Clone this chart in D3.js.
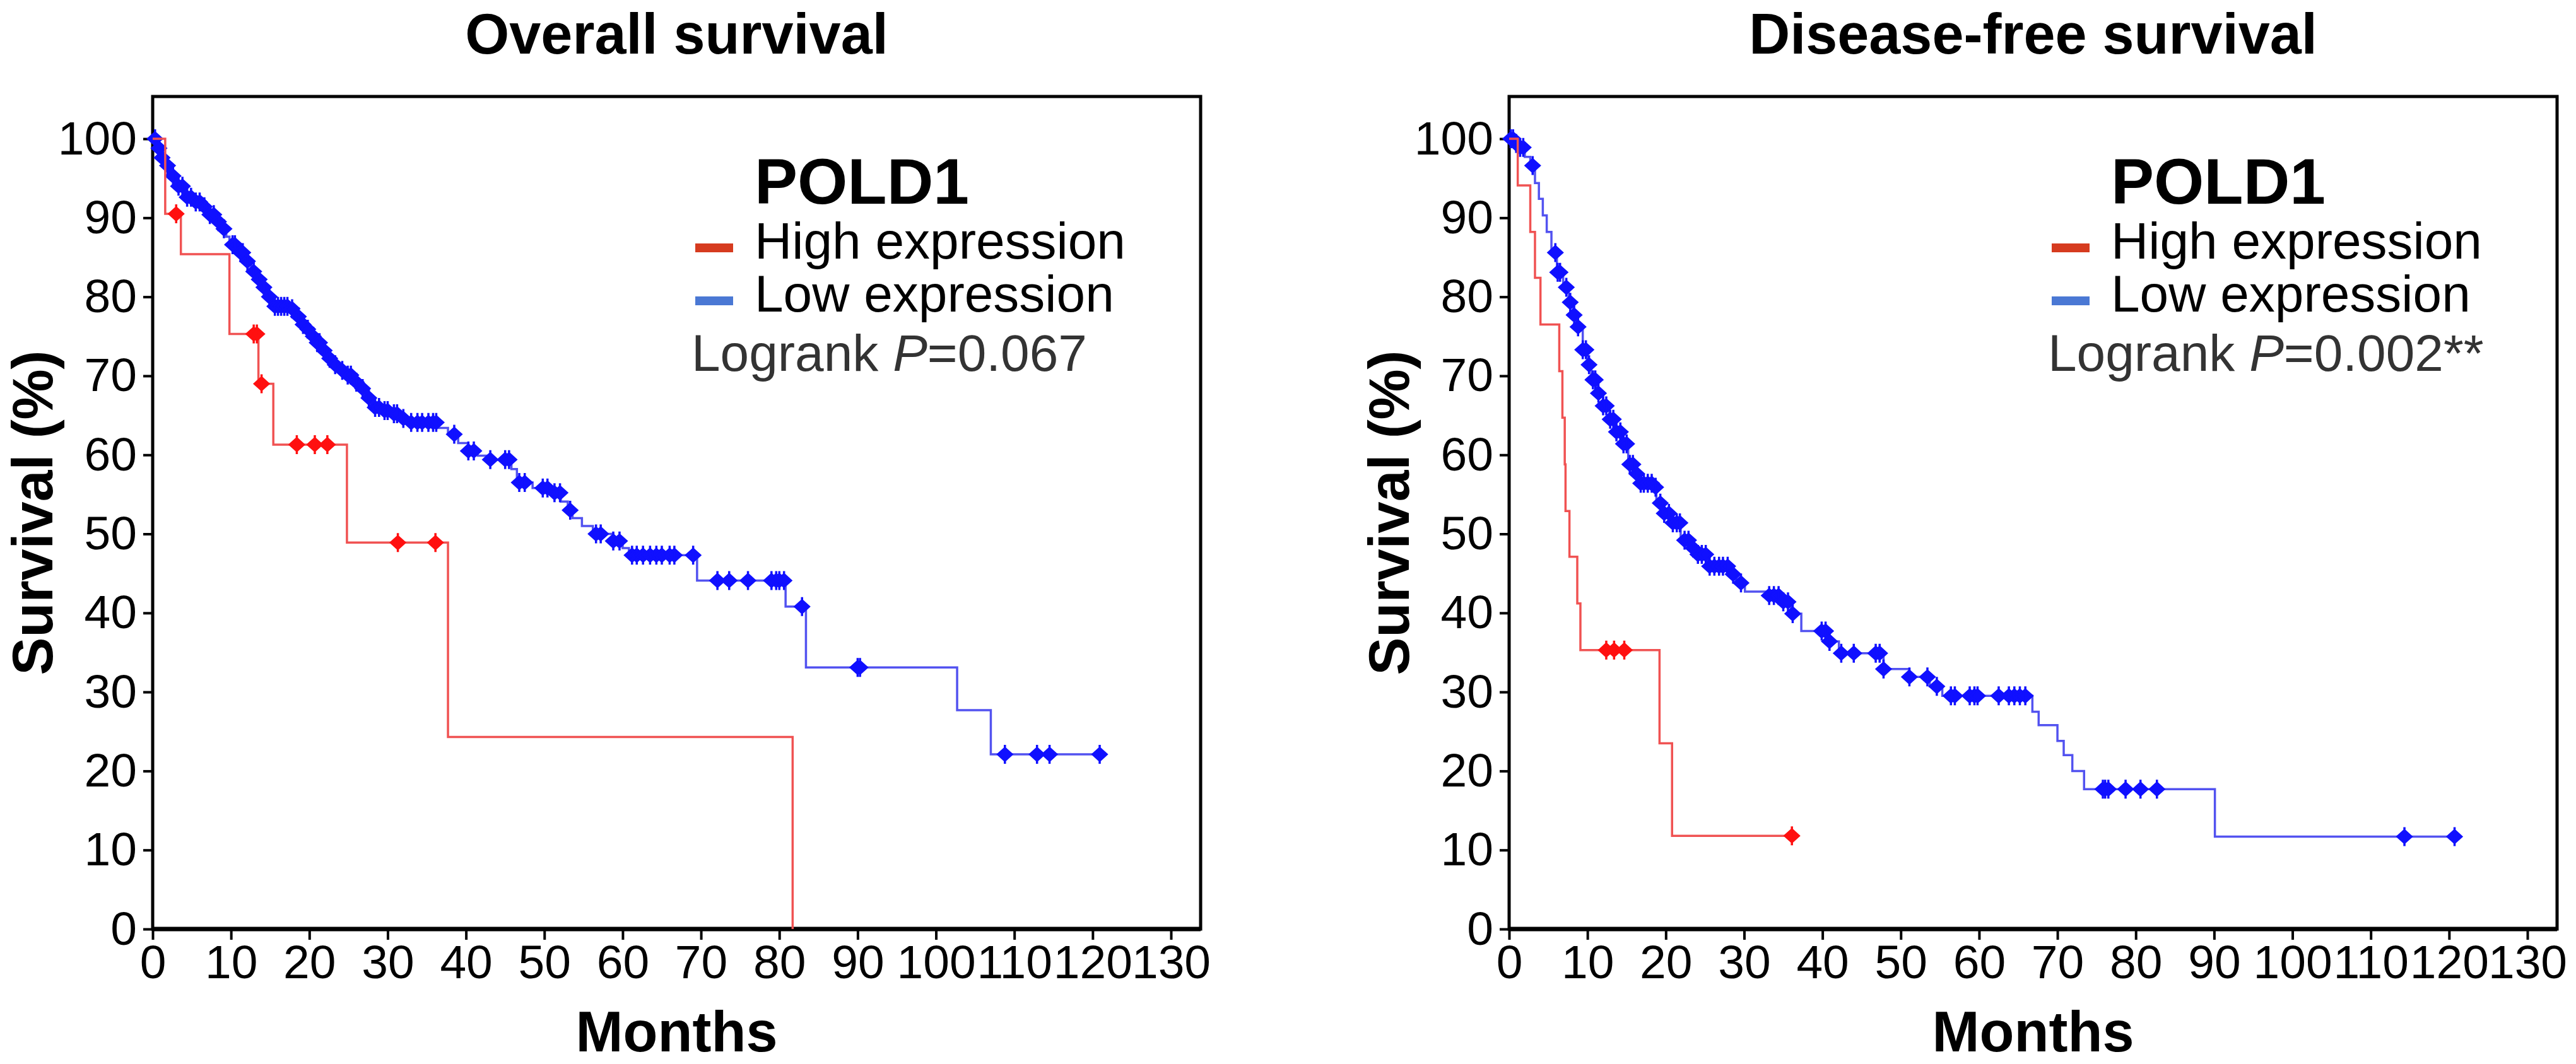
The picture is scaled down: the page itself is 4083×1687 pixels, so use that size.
<!DOCTYPE html>
<html>
<head>
<meta charset="utf-8">
<script src="https://cdn.jsdelivr.net/npm/d3@7"></script>
<style>
  html, body { margin: 0; padding: 0; background: #fff; }
  svg { display: block; font-family: "Liberation Sans", Arial, Helvetica, sans-serif; }
</style>
</head>
<body>
<div id="chart"></div>
<script>
// Kaplan-Meier curves for POLD1 high / low expression.

const monthTicks = [0, 10, 20, 30, 40, 50, 60, 70, 80, 90, 100, 110, 120, 130];
const survTicks  = [0, 10, 20, 30, 40, 50, 60, 70, 80, 90, 100];

const panelTitles = ['Overall survival', 'Disease-free survival'];
const pValues     = ['=0.067', '=0.002**'];
const groupLabels = ['High expression', 'Low expression'];

// [month, survival % after the step]
const osHighSteps = [[0,100],[1.6,90.5],[3.6,85.4],[9.8,75.3],[13.5,69.0],[15.4,61.3],[24.8,48.9],[37.7,24.3],[81.7,0]];
const osHighEnd = 81.7;
const osHighCensor = [3.0, 12.9, 13.3, 13.9, 18.4, 20.7, 22.3, 31.3, 36.1];

const osLowSteps = [[0,100],[0.5,98.8],[1.0,97.6],[1.6,96.6],[2.3,95.3],[3.1,94.0],[4.1,92.6],[5.2,92.0],[6.2,91.4],
  [7.0,90.4],[8.0,89.5],[8.8,88.6],[9.4,87.6],[9.8,86.6],[10.8,85.6],[11.8,84.5],[12.6,83.2],[13.3,82.2],[13.9,81.2],
  [14.6,80.0],[15.4,78.8],[17.5,78.5],[18.3,77.5],[19.0,76.5],[19.5,75.9],[20.2,75.0],[20.8,74.2],[21.6,73.2],
  [22.3,72.2],[23.0,71.4],[23.8,70.7],[24.6,70.1],[25.5,69.2],[26.4,68.4],[27.2,67.2],[28.0,66.0],[29.3,65.6],
  [30.5,65.2],[31.5,64.6],[32.6,64.1],[36.5,63.4],[37.7,62.6],[39.0,61.5],[40.3,60.5],[41.5,59.9],[42.9,59.4],
  [45.8,58.2],[46.5,56.5],[48.5,55.8],[50.6,55.2],[52.1,54.1],[53.0,53.0],[53.6,52.0],[54.8,51.0],[56.2,50.0],
  [58.8,49.1],[60.0,48.2],[60.8,47.3],[69.5,44.1],[80.8,40.8],[83.4,33.1],[102.7,27.7],[107.0,22.1]];
const osLowEnd = 120.9;
const osLowCensor = [0.3,0.8,1.2,1.9,2.6,3.3,3.8,4.4,4.9,5.5,6.0,6.6,7.3,7.8,8.4,9.1,10.2,10.5,11.2,11.5,12.1,12.9,
  13.6,14.2,14.9,15.6,16.0,16.4,16.8,17.2,17.8,18.6,19.2,19.8,20.5,21.0,21.3,21.9,22.6,23.3,24.2,24.9,25.3,26.0,
  26.8,27.6,28.4,28.9,29.6,30.0,30.8,31.2,32.0,33.0,33.8,34.4,35.2,35.8,36.2,38.5,40.3,41.0,43.1,45.0,45.5,46.8,
  47.5,49.8,50.4,51.3,52.0,53.3,56.6,57.2,58.8,59.6,61.2,61.8,62.6,63.5,64.3,65.0,66.0,66.6,69.0,72.1,73.6,76.0,
  79.0,79.6,80.0,80.6,82.9,90.0,90.3,108.8,112.9,114.5,120.9];

const dfsHighSteps = [[0,100],[1.1,94.1],[2.7,88.2],[3.3,82.4],[4.0,76.5],[6.4,70.6],[6.8,64.7],[7.1,58.8],[7.2,52.9],
  [7.7,47.1],[8.7,41.2],[9.1,35.3],[19.2,23.5],[20.8,11.8]];
const dfsHighEnd = 36.1;
const dfsHighCensor = [12.4, 13.4, 14.7, 36.1];

const dfsLowSteps = [[0,100],[0.6,99.4],[1.2,98.9],[2.0,97.7],[2.7,96.6],[3.3,94.4],[3.8,92.4],[4.3,90.3],[4.8,88.2],
  [5.4,85.6],[6.1,83.1],[6.9,81.2],[7.6,79.3],[8.2,77.7],[8.7,76.2],[9.4,73.3],[10.0,71.4],[10.5,69.5],[11.2,67.8],
  [12.0,66.2],[12.8,64.5],[13.5,62.9],[14.5,61.4],[15.2,58.8],[16.0,57.6],[16.5,56.4],[18.3,55.9],[18.8,53.9],
  [19.8,52.6],[20.8,51.4],[21.9,49.2],[23.0,48.2],[23.9,47.4],[25.5,45.9],[28.0,44.9],[29.0,43.8],[30.1,42.7],
  [33.0,42.2],[34.7,41.4],[36.0,39.9],[37.3,37.7],[40.9,36.4],[42.1,34.9],[47.8,32.9],[51.1,31.9],[53.7,30.7],
  [55.3,29.5],[66.8,27.5],[67.6,25.8],[70.0,23.8],[70.8,22.0],[71.9,20.0],[73.4,17.7],[90.1,11.7]];
const dfsLowEnd = 120.7;
const dfsLowCensor = [0.2,0.5,0.9,1.4,1.8,3.0,5.9,6.2,6.5,7.3,7.8,8.3,8.8,9.4,9.8,10.2,10.7,11.0,11.4,12.0,12.4,12.9,
  13.3,13.7,14.2,14.6,15.0,15.4,15.8,16.3,16.8,17.2,17.7,18.2,18.7,19.3,19.8,20.4,20.9,21.4,21.8,22.4,22.9,23.5,
  24.1,24.6,25.1,25.6,26.2,26.8,27.3,27.9,28.6,29.6,33.2,33.8,34.4,35.0,35.6,36.2,39.9,40.4,40.9,42.4,44.0,46.8,
  47.3,47.8,51.1,53.4,54.6,56.4,56.9,58.8,59.4,59.8,62.5,63.8,64.5,65.2,65.9,75.8,76.1,76.5,78.7,80.6,82.7,114.3,120.7];

const panels = [
  { high: { steps: osHighSteps, end: osHighEnd, censor: osHighCensor },
    low:  { steps: osLowSteps,  end: osLowEnd,  censor: osLowCensor } },
  { high: { steps: dfsHighSteps, end: dfsHighEnd, censor: dfsHighCensor },
    low:  { steps: dfsLowSteps,  end: dfsLowEnd,  censor: dfsLowCensor } }
];

const W = 4083, H = 1687;
const FONT = '"Liberation Sans", Arial, Helvetica, sans-serif';
const LINE = { high: '#f05252', low: '#5252f0' };
const MARK = { high: '#ff1010', low: '#1010ff' };
const KEY  = { high: '#d63b1f', low: '#4a78d4' };

const svg = d3.select('#chart').append('svg')
  .attr('width', W).attr('height', H).attr('xmlns', 'http://www.w3.org/2000/svg');
svg.append('rect').attr('width', W).attr('height', H).attr('fill', '#fff');

// panel geometry (left panel; right one is shifted)
const boxL = 242, boxR = 1903, boxT = 153, boxB = 1473;
const iW = boxR - boxL;
const shiftX = 2150;

const x = d3.scaleLinear().domain([0, 130]).range([0, 1614]);
const y = d3.scaleLinear().domain([0, 100]).range([boxB, 220]);

const stepLine = d3.line().x(d => x(d[0])).y(d => y(d[1])).curve(d3.curveStepAfter);
const bisect = d3.bisector(d => d[0]).right;
const survAt = (steps, t) => steps[Math.max(0, bisect(steps, t) - 1)][1];

// little diamond with a vertical tick, centred on 0,0
const censorPath = 'M0,-15V15M-11,0L0,-10L11,0L0,10Z';

panels.forEach((p, i) => {
  const g = svg.append('g').attr('transform', `translate(${boxL + i * shiftX},0)`);

  // title
  g.append('text').attr('x', iW / 2).attr('y', 85).attr('text-anchor', 'middle')
    .attr('font-size', 90).attr('font-weight', 'bold').attr('fill', '#000')
    .text(panelTitles[i]);

  // frame
  g.append('rect').attr('x', 0).attr('y', boxT).attr('width', iW).attr('height', boxB - boxT)
    .attr('fill', 'none').attr('stroke', '#000').attr('stroke-width', 5);

  // y axis
  g.append('g')
    .call(d3.axisLeft(y).tickValues(survTicks).tickSize(15).tickPadding(10))
    .call(a => {
      a.select('.domain').remove();
      a.selectAll('line').attr('stroke', '#000').attr('stroke-width', 4);
      a.selectAll('text').attr('font-size', 75).attr('font-family', FONT).attr('fill', '#000');
    });

  // x axis
  g.append('g').attr('transform', `translate(0,${boxB})`)
    .call(d3.axisBottom(x).tickValues(monthTicks).tickSize(17).tickPadding(8))
    .call(a => {
      a.select('.domain').attr('stroke', '#000').attr('stroke-width', 7).attr('d', `M0,0H${iW}`);
      a.selectAll('line').attr('stroke', '#000').attr('stroke-width', 4);
      a.selectAll('text').attr('font-size', 75).attr('font-family', FONT).attr('fill', '#000');
    });

  // axis titles
  g.append('text').attr('x', iW / 2).attr('y', 1667).attr('text-anchor', 'middle')
    .attr('font-size', 90).attr('font-weight', 'bold').text('Months');
  g.append('text').attr('transform', `translate(${83 - boxL},${(boxT + boxB) / 2}) rotate(-90)`)
    .attr('text-anchor', 'middle').attr('font-size', 90).attr('font-weight', 'bold').text('Survival (%)');

  // curves: low first so the high curve sits on top
  ['low', 'high'].forEach(k => {
    const s = p[k];
    const pts = s.steps.concat([[s.end, s.steps[s.steps.length - 1][1]]]);
    g.append('path').datum(pts)
      .attr('fill', 'none').attr('stroke', LINE[k]).attr('stroke-width', 3.5)
      .attr('d', stepLine);
    g.selectAll(`.c-${k}`).data(s.censor).enter().append('path')
      .attr('class', `c-${k}`)
      .attr('transform', t => `translate(${x(t)},${y(survAt(s.steps, t))})`)
      .attr('d', censorPath)
      .attr('fill', MARK[k]).attr('stroke', MARK[k]).attr('stroke-width', 3.5);
  });

  // legend
  const lg = g.append('g').attr('transform', `translate(${1196 - boxL},0)`);
  lg.append('text').attr('x', 0).attr('y', 323).attr('font-size', 102).attr('font-weight', 'bold')
    .text('POLD1');
  ['high', 'low'].forEach((k, j) => {
    const by = 410 + j * 84;
    lg.append('rect').attr('x', -94).attr('y', by - 24).attr('width', 60).attr('height', 14)
      .attr('fill', KEY[k]);
    lg.append('text').attr('x', 0).attr('y', by).attr('font-size', 82).attr('fill', '#000')
      .text(groupLabels[j]);
  });
  const lr = lg.append('text').attr('x', -100).attr('y', 588).attr('font-size', 82).attr('fill', '#333');
  lr.append('tspan').text('Logrank ');
  lr.append('tspan').attr('font-style', 'italic').text('P');
  lr.append('tspan').text(pValues[i]);
});
</script>
</body>
</html>
